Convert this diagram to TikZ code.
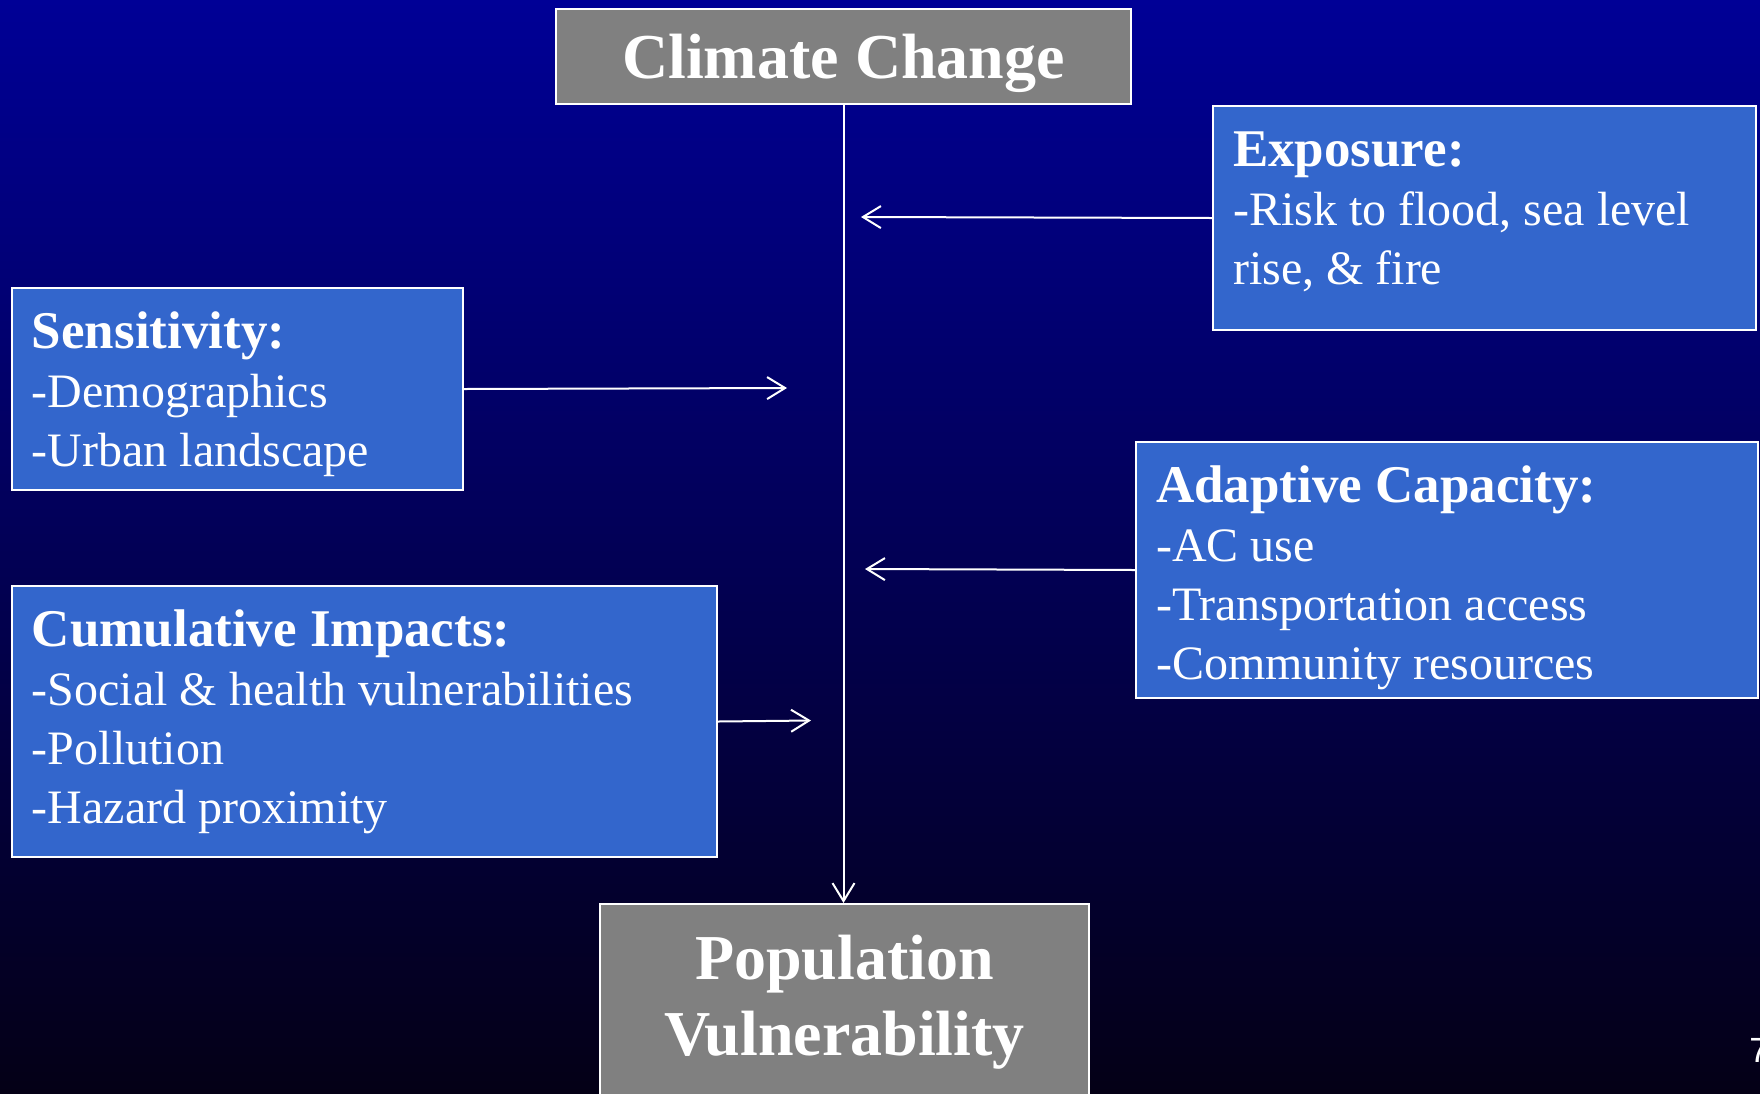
\documentclass[tikz,border=0pt]{standalone}
\usepackage{fontspec}
\setmainfont{Liberation Serif}
\newfontfamily\pagenumfont{Liberation Sans}
\usetikzlibrary{arrows.meta}

\definecolor{slidetop}{RGB}{0,0,150}
\definecolor{slidebot}{RGB}{4,0,22}
\definecolor{boxblue}{RGB}{51,102,204}
\definecolor{boxgray}{RGB}{128,128,128}

\newcommand\tightspace{\spaceskip=6pt\relax}
\newcommand\boxhead[1]{{\bfseries\fontsize{26.5}{29.5}\selectfont\spaceskip=0pt\relax#1}}

\begin{document}
\begin{tikzpicture}[x=.5pt,y=-.5pt,
  bluebox/.style={draw=white,line width=1pt,fill=boxblue,text=white,
    anchor=north west,align=left,inner xsep=10pt,inner ysep=0pt,
    font=\fontsize{24}{29.5}\selectfont,
    execute at begin node=\tightspace},
  graybox/.style={draw=white,line width=1pt,fill=boxgray,text=white,
    align=center,inner sep=0pt,font=\bfseries\fontsize{32}{38}\selectfont},
  link/.style={white,line width=1pt,-{Straight Barb[length=9pt,width=11pt]}}]

\clip (0,0) rectangle (1760,1093);
\shade[top color=slidetop,bottom color=slidebot] (0,0) rectangle (1760,1093);

% top and bottom
\node[graybox,minimum width=287.5pt,minimum height=47.5pt,
  text height=29pt,text depth=7pt]
  (clim) at (843.5,56.5) {Climate Change};
\node[graybox,minimum width=244.5pt,minimum height=98pt]
  (popv) at (844.5,1002) {Population\\Vulnerability};

% factors
\node[bluebox,text width=205.5pt,minimum height=101pt]
  (sens) at (11,287)
  {\strut\rule{0pt}{24pt}\boxhead{Sensitivity:}\\
   -Demographics\\
   -Urban landscape};
\node[bluebox,text width=332.5pt,minimum height=135.5pt]
  (cumu) at (11,585)
  {\boxhead{Cumulative Impacts:}\\
   -Social \& health vulnerabilities\\
   -Pollution\\
   -Hazard proximity};
\node[bluebox,text width=251.5pt,minimum height=112pt]
  (expo) at (1212,105)
  {\boxhead{Exposure:}\\
   -Risk to flood, sea level\\
   rise, \& fire\rule[-10pt]{0pt}{10pt}};
\node[bluebox,text width=291pt,minimum height=128pt]
  (adap) at (1135,441)
  {\strut\rule{0pt}{26pt}\boxhead{Adaptive Capacity:}\\
   -AC use\\
   -Transportation access\\
   -Community resources};

% arrows
\coordinate (sensend) at (787,388);
\coordinate (cumuend) at (811,720.5);
\coordinate (expoend) at (861,217);
\coordinate (adapend) at (865,569);

\draw[link] (clim.south) -- (clim.south |- popv.north);
\draw[link] (sens.east) -- (sensend);
\draw[link] (cumu.east) -- (cumuend);
\draw[link] (expo.west) -- (expoend);
\draw[link] (adap.west) -- (adapend);

\node[anchor=base west,inner sep=0pt,text=white,
  font=\pagenumfont\fontsize{17.5}{20}\selectfont] (pnum) at (1749,1062) {7};
\end{tikzpicture}
\end{document}
